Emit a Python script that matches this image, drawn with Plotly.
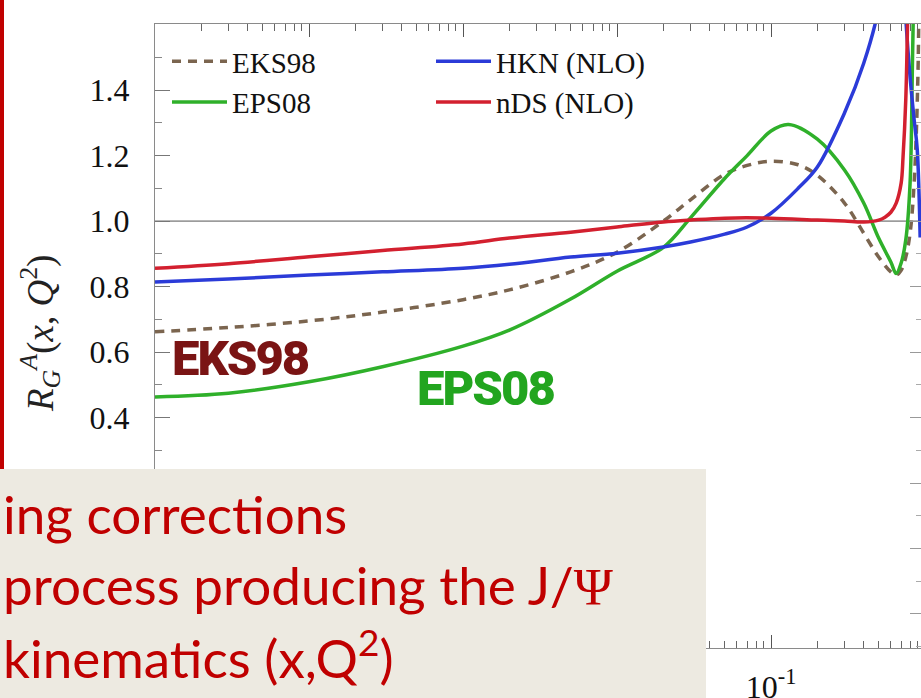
import plotly.graph_objects as go

# ---------------- data ----------------
X_EKS98 = [1e-5, 3e-5, 1e-4, 3e-4, 1e-3, 2e-3, 5e-3, 1e-2, 0.02, 0.03, 0.05, 0.07, 0.1,
           0.15, 0.2, 0.3, 0.4, 0.5, 0.6, 0.65, 0.7, 0.75, 0.8, 0.85, 0.9, 0.92]
Y_EKS98 = [0.662, 0.675, 0.695, 0.722, 0.760, 0.790, 0.845, 0.905, 1.000, 1.065, 1.143, 1.170, 1.183,
           1.172, 1.140, 1.055, 0.963, 0.890, 0.845, 0.835, 0.850, 0.890, 0.963, 1.116, 1.45, 1.90]

X_EPS08 = [1e-5, 3e-5, 1e-4, 3e-4, 1e-3, 2e-3, 5e-3, 1e-2, 0.02, 0.03, 0.05, 0.07, 0.1,
           0.13, 0.2, 0.3, 0.4, 0.5, 0.6, 0.65, 0.7, 0.75, 0.8, 0.83, 0.86]
Y_EPS08 = [0.463, 0.474, 0.509, 0.555, 0.618, 0.667, 0.762, 0.847, 0.920, 1.010, 1.130, 1.200, 1.275,
           1.295, 1.250, 1.156, 1.055, 0.948, 0.875, 0.840, 0.872, 0.942, 1.116, 1.50, 1.90]

X_HKN = [1e-5, 3e-5, 1e-4, 3e-4, 1e-3, 2e-3, 5e-3, 1e-2, 0.02, 0.03, 0.05, 0.07, 0.1,
         0.15, 0.2, 0.3, 0.4, 0.5, 0.6, 0.7, 0.75, 0.8, 0.85, 0.89, 0.93]
Y_HKN = [0.814, 0.823, 0.835, 0.845, 0.856, 0.868, 0.890, 0.902, 0.921, 0.936, 0.960, 0.982, 1.024,
         1.100, 1.165, 1.330, 1.482, 1.650, 1.950, 1.900, 1.620, 1.440, 1.310, 1.220, 0.950]

X_NDS = [1e-5, 3e-5, 1e-4, 3e-4, 1e-3, 2e-3, 5e-3, 1e-2, 0.02, 0.03, 0.05, 0.1,
         0.2, 0.3, 0.4, 0.5, 0.55, 0.6, 0.65, 0.7, 0.72, 0.75, 0.77, 0.8]
Y_NDS = [0.856, 0.870, 0.891, 0.910, 0.930, 0.948, 0.966, 0.982, 0.997, 1.003, 1.009, 1.009,
         1.003, 1.000, 0.997, 1.003, 1.012, 1.027, 1.055, 1.116, 1.195, 1.370, 1.600, 2.000]

NAMES = ["EKS98", "EPS08", "HKN (NLO)", "nDS (NLO)"]
REF_VALUE = 1.0
Y_RANGE = [-0.304, 1.602]
X_RANGE_LOG = [-5.0, -0.026]

# tick labels (the ones under the slide's text box are hidden by it, so left blank)
Y_TICKVALS = [-0.2, 0.0, 0.2, 0.4, 0.6, 0.8, 1.0, 1.2, 1.4]
Y_TICKTEXT = ["", "", "", "0.4", "0.6", "0.8", "1.0", "1.2", "1.4"]
X_TICKVALS = [1e-5, 1e-4, 1e-3, 1e-2, 1e-1, 1]
X_TICKTEXT = ["", "", "", "", "10<sup>-1</sup>", "1"]

TEXT_LINES = ["ing corrections",
              "process producing the J/<span style=\"font-family:'Liberation Serif'\">Ψ</span>",
              "kinematics (x,Q<sup>2</sup>)"]

# ---------------- geometry / styles ----------------
W, H = 921, 698
ML, MR, MT, MB = 155, 0, 24, 50
PW, PH = W - ML - MR, H - MT - MB


def fx(px):
    return (px - ML) / PW


def fy(py):
    return (H - MB - py) / PH


C_EKS = "#7b654f"
C_EPS = "#2fb02a"
C_HKN = "#2b3bd8"
C_NDS = "#d3202f"
SERIF = "Liberation Serif, Times New Roman, serif"
SANS = "Lato, Open Sans, sans-serif"
HEAVY = "Roboto, Liberation Sans, sans-serif"
HEAVY_SPAN = "<span style=\"letter-spacing:-2px\">{}</span>"

fig = go.Figure()
fig.add_trace(go.Scatter(x=X_EKS98, y=Y_EKS98, name=NAMES[0], mode="lines", legend="legend",
                         line=dict(color=C_EKS, width=3.5, dash="9px,7px"), line_shape="spline"))
fig.add_trace(go.Scatter(x=X_EPS08, y=Y_EPS08, name=NAMES[1], mode="lines", legend="legend",
                         line=dict(color=C_EPS, width=3.5), line_shape="spline"))
fig.add_trace(go.Scatter(x=X_HKN, y=Y_HKN, name=NAMES[2], mode="lines", legend="legend2",
                         line=dict(color=C_HKN, width=3.5), line_shape="spline"))
fig.add_trace(go.Scatter(x=X_NDS, y=Y_NDS, name=NAMES[3], mode="lines", legend="legend2",
                         line=dict(color=C_NDS, width=3.5), line_shape="spline"))
# carrier for the right-hand tick axis
fig.add_trace(go.Scatter(x=[], y=[], yaxis="y2", showlegend=False, hoverinfo="skip"))

fig.add_hline(y=REF_VALUE, line=dict(color="#555555", width=1), layer="below")

axis_col = "#8a8a8a"
fig.update_layout(
    width=W, height=H, margin=dict(l=ML, r=MR, t=MT, b=MB, pad=0, autoexpand=False),
    paper_bgcolor="white", plot_bgcolor="white", showlegend=True,
    xaxis=dict(type="log", range=X_RANGE_LOG, tickmode="array", tickvals=X_TICKVALS, ticktext=X_TICKTEXT,
               automargin=False,
               showgrid=False, zeroline=False, showline=True, linecolor=axis_col, linewidth=1.2,
               mirror="ticks", ticks="inside", ticklen=13, tickcolor="#555", tickwidth=1,
               minor=dict(dtick="D1", ticks="inside", ticklen=7, tickcolor="#666", showgrid=False),
               tickfont=dict(family=SERIF, size=32, color="#111"), ticklabelstandoff=10),
    yaxis=dict(range=Y_RANGE, tickmode="array", tickvals=Y_TICKVALS, ticktext=Y_TICKTEXT,
               automargin=False, showgrid=False, zeroline=False,
               showline=True, linecolor=axis_col, linewidth=1.2, ticks="inside", ticklen=15,
               tickcolor="#777", minor=dict(dtick=0.1, tick0=0, ticks="inside", ticklen=7, tickcolor="#888"),
               tickfont=dict(family=SERIF, size=32, color="#111"), ticklabelstandoff=18),
    yaxis2=dict(range=Y_RANGE, overlaying="y", side="right", anchor="x", dtick=0.2, tick0=0,
                automargin=False,
                showgrid=False, zeroline=False, showline=False, showticklabels=False,
                ticks="inside", ticklen=11, tickcolor="#999",
                minor=dict(dtick=0.1, ticks="inside", ticklen=5, tickcolor="#aaa")),
    legend=dict(x=fx(167), y=fy(36), xanchor="left", yanchor="top", bgcolor="rgba(0,0,0,0)",
                font=dict(family=SERIF, size=29, color="#111"), tracegroupgap=0, itemwidth=55),
    legend2=dict(x=fx(431), y=fy(36), xanchor="left", yanchor="top", bgcolor="rgba(0,0,0,0)",
                 font=dict(family=SERIF, size=29, color="#111"), tracegroupgap=0, itemwidth=55),
)

# slide decorations: red edge bar and grey text box
fig.add_shape(type="rect", xref="paper", yref="paper", x0=fx(0), x1=fx(4), y0=fy(469), y1=fy(0),
              fillcolor="#c00000", line=dict(width=0), layer="above")
fig.add_shape(type="rect", xref="paper", yref="paper", x0=fx(0), x1=fx(706), y0=fy(H + 2), y1=fy(469),
              fillcolor="#edeae1", line=dict(width=0), layer="above")

# y-axis title
fig.add_annotation(xref="paper", yref="paper", x=fx(40), y=fy(334), xanchor="center", yanchor="middle",
                   textangle=-90, showarrow=False,
                   text="<i>R</i><sub><i>G</i></sub><sup><i>A</i></sup>(<i>x</i>, <i>Q</i><sup>2</sup>)",
                   font=dict(family=SERIF, size=37, color="#222"))

# big overlay labels
fig.add_annotation(xref="paper", yref="paper", x=fx(240), y=fy(358), xanchor="center", yanchor="middle",
                   showarrow=False, text=HEAVY_SPAN.format("EKS98"),
                   font=dict(family=HEAVY, size=49, color="#7a1414", weight=900))
fig.add_annotation(xref="paper", yref="paper", x=fx(485), y=fy(389), xanchor="center", yanchor="middle",
                   showarrow=False, text=HEAVY_SPAN.format("EPS08"),
                   font=dict(family=HEAVY, size=49, color="#22a51f", weight=900))

# slide text
for line, mid in zip(TEXT_LINES, [513, 584, 654]):
    fig.add_annotation(xref="paper", yref="paper", x=fx(1), y=fy(mid), xanchor="left", yanchor="middle",
                       showarrow=False, text=line, font=dict(family=SANS, size=53, color="#c00000"))

fig.write_html("out.html")
